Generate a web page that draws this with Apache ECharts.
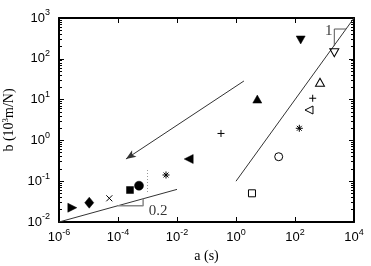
<!DOCTYPE html>
<html>
<head>
<meta charset="utf-8">
<script src="https://cdn.jsdelivr.net/npm/echarts@6/dist/echarts.min.js"></script>
<style>html,body{margin:0;padding:0;background:#fff;}#c{width:371px;height:266px;}</style>
</head>
<body>
<div id="c"></div>
<script>
// ---- data ----
const aValues = [2.83e-6, 1.06e-5, 5.07e-5, 2.55e-4, 5.15e-4, 4.24e-3, 0.0249, 0.31, 5.27, 156, 2150, 703, 398, 298, 140, 28, 3.48];
const bValues = [0.0224, 0.0297, 0.0381, 0.0608, 0.0776, 0.142, 0.35, 1.48, 10.3, 289, 141, 26.5, 10.8, 5.56, 1.98, 0.398, 0.0505];
const markerKinds = ['triRightFilled','diamondFilled','cross','squareFilled','circleFilled','asterisk','triLeftFilled','plus','triUpFilled','triDownFilled','triDownOpen','triUpOpen','plus','triLeftOpen','asterisk','circleOpen','squareOpen'];

const steepLineA = [1, 1e4];
const steepLineB = [0.1, 1e3];
const shallowLineA = [1e-6, 1e-2];
const shallowLineB = [0.01, 0.063];
const slope1TriA = [2150, 2150, 5370];
const slope1TriB = [205, 537, 537];
const slope02TriA = [1e-4, 7.1e-4, 7.1e-4];
const slope02TriB = [0.0251, 0.0251, 0.0372];
const dottedA = [1e-3, 1e-3];
const dottedB = [0.188, 0.054];
const arrowA = [1.86, 1.86e-4];
const arrowB = [28.6, 0.35];
const annotTexts = ['1', '0.2'];
const annotA = [1400, 2.3e-3];
const annotB = [480, 0.0186];

const xMajorTicks = [1e-6, 1e-4, 1e-2, 1, 1e2, 1e4];
const yMajorTicks = [1e-2, 1e-1, 1, 1e1, 1e2, 1e3];
const yMinorTicks = [];
for (let e = -2; e < 3; e++) for (let m = 2; m <= 9; m++) yMinorTicks.push(m * Math.pow(10, e));

// ---- styling ----
const marker = {
  triRightFilled: {symbol: 'path://M0,0L10,5L0,10Z', size: [9, 9], fill: '#000'},
  triLeftFilled: {symbol: 'path://M10,0L0,5L10,10Z', size: [9, 9], fill: '#000'},
  triLeftOpen: {symbol: 'path://M10,0L0,5L10,10Z', size: [8, 8], fill: 'none'},
  triUpFilled: {symbol: 'path://M5,0L10,9L0,9Z', size: [9, 8], fill: '#000'},
  triUpOpen: {symbol: 'path://M5,0L10,9L0,9Z', size: [9, 8], fill: 'none'},
  triDownFilled: {symbol: 'path://M0,0L10,0L5,9Z', size: [9, 8], fill: '#000'},
  triDownOpen: {symbol: 'path://M0,0L10,0L5,9Z', size: [9, 8], fill: 'none'},
  diamondFilled: {symbol: 'diamond', size: [9, 11], fill: '#000'},
  squareFilled: {symbol: 'rect', size: [7, 7], fill: '#000'},
  squareOpen: {symbol: 'rect', size: [7, 7], fill: 'none'},
  circleFilled: {symbol: 'circle', size: 9, fill: '#000'},
  circleOpen: {symbol: 'circle', size: 8, fill: 'none'},
  cross: {symbol: 'path://M0,0L10,10M10,0L0,10', size: 6, fill: 'none'},
  plus: {symbol: 'path://M5,0L5,10M0,5L10,5', size: 7, fill: 'none'},
  asterisk: {symbol: 'path://M5,0L5,10M0,5L10,5M1.5,1.5L8.5,8.5M8.5,1.5L1.5,8.5', size: 7, fill: 'none'}
};

const richTick = {
  b: {fontSize: 13, fontFamily: 'Liberation Sans', color: '#000', verticalAlign: 'bottom'},
  s: {fontSize: 9, fontFamily: 'Liberation Sans', color: '#000', verticalAlign: 'bottom', padding: [0, 0, 7, 0]}
};
function tickFmt(v) {
  const e = Math.round(Math.log10(v));
  return '{b|10}{s|' + e + '}';
}

const series = [];
aValues.forEach((a, i) => {
  const m = marker[markerKinds[i]];
  series.push({
    type: 'scatter', xAxisIndex: 0, yAxisIndex: 0,
    symbol: m.symbol, symbolSize: m.size, symbolKeepAspect: false,
    itemStyle: {color: m.fill === 'none' ? 'rgba(0,0,0,0)' : '#000', borderColor: '#000', borderWidth: m.fill === 'none' ? 1 : 0.5, opacity: 1},
    data: [[a, bValues[i]]], z: 5
  });
});
function lineSeries(xs, ys, style) {
  return {type: 'line', xAxisIndex: 0, yAxisIndex: 0, showSymbol: false, symbol: 'none',
    lineStyle: style, data: xs.map((x, i) => [x, ys[i]]), z: 3, silent: true};
}
series.push(lineSeries(steepLineA, steepLineB, {color: '#333', width: 1}));
series.push(lineSeries(shallowLineA, shallowLineB, {color: '#333', width: 1}));
series.push(lineSeries(slope1TriA, slope1TriB, {color: '#555', width: 1}));
series.push(lineSeries(slope02TriA, slope02TriB, {color: '#888', width: 1.5}));
series.push(lineSeries(dottedA, dottedB, {color: '#999', width: 1, type: [1, 2]}));
series.push({
  type: 'line', xAxisIndex: 0, yAxisIndex: 0, silent: true, showSymbol: false, symbol: 'none',
  lineStyle: {opacity: 0}, itemStyle: {color: '#333'},
  data: [[arrowA[0], arrowB[0]], [arrowA[1], arrowB[1]]],
  markLine: {
    silent: true, symbol: ['none', 'arrow'], symbolSize: [6, 10],
    itemStyle: {color: '#333'},
    lineStyle: {color: '#333', width: 1, type: 'solid'}, label: {show: false},
    emphasis: {disabled: true},
    data: [[{coord: [arrowA[0], arrowB[0]]}, {coord: [arrowA[1], arrowB[1]]}]]
  }
});
series.push({
  type: 'scatter', xAxisIndex: 0, yAxisIndex: 0, symbolSize: 0, silent: true,
  data: annotTexts.map((t, i) => ({value: [annotA[i], annotB[i]], name: t})),
  label: {show: true, position: 'inside', formatter: p => p.name, fontFamily: 'Liberation Serif', fontSize: 15, color: '#000'}
});

const baseX = {type: 'log', logBase: 10, min: 1e-6, max: 1e4, splitLine: {show: false}, gridIndex: 0};
const baseY = {type: 'log', logBase: 10, min: 1e-2, max: 1e3, splitLine: {show: false}, gridIndex: 0};
const axisLine = {show: true, onZero: false, lineStyle: {color: '#000', width: 2}};

const option = {
  animation: false,
  backgroundColor: '#fff',
  grid: {left: 59, right: 17, top: 18, bottom: 44, containLabel: false, outerBoundsMode: 'none'},
  xAxis: [
    Object.assign({}, baseX, {position: 'bottom', axisLine: axisLine,
      axisTick: {show: true, inside: true, length: 5, customValues: xMajorTicks, lineStyle: {color: '#000', width: 1}},
      axisLabel: {show: true, customValues: xMajorTicks, formatter: tickFmt, rich: richTick, margin: 6},
      name: 'a (s)', nameLocation: 'middle', nameGap: 27,
      nameTextStyle: {fontFamily: 'Liberation Serif', fontSize: 14, color: '#000'}}),
    Object.assign({}, baseX, {position: 'top', axisLine: axisLine,
      axisTick: {show: true, inside: true, length: 5, customValues: xMajorTicks, lineStyle: {color: '#000', width: 1}},
      axisLabel: {show: false}})
  ],
  yAxis: [
    Object.assign({}, baseY, {position: 'left', axisLine: axisLine,
      axisTick: {show: true, inside: true, length: 5, customValues: yMajorTicks, lineStyle: {color: '#000', width: 1}},
      axisLabel: {show: true, customValues: yMajorTicks, formatter: tickFmt, rich: richTick, margin: 9, padding: [0, 0, 3, 0]},
      name: '{n|b (10}{s|3}{n|m/N)}', nameLocation: 'middle', nameGap: 40, nameRotate: 90,
      nameTextStyle: {rich: {n: {fontFamily: 'Liberation Serif', fontSize: 14, color: '#000', verticalAlign: 'bottom'}, s: {fontFamily: 'Liberation Serif', fontSize: 9, color: '#000', verticalAlign: 'bottom', padding: [0, 0, 6, 0]}}}}),
    Object.assign({}, baseY, {position: 'right', axisLine: axisLine,
      axisTick: {show: true, inside: true, length: 5, customValues: yMajorTicks, lineStyle: {color: '#000', width: 1}},
      axisLabel: {show: false}}),
    Object.assign({}, baseY, {position: 'left', axisLine: {show: false},
      axisTick: {show: true, inside: true, length: 3, customValues: yMinorTicks, lineStyle: {color: '#000', width: 1}},
      axisLabel: {show: false}}),
    Object.assign({}, baseY, {position: 'right', axisLine: {show: false},
      axisTick: {show: true, inside: true, length: 3, customValues: yMinorTicks, lineStyle: {color: '#000', width: 1}},
      axisLabel: {show: false}})
  ],
  series: series
};
const chart = echarts.init(document.getElementById('c'), null, {renderer: 'canvas'});
chart.setOption(option);
</script>
</body>
</html>
